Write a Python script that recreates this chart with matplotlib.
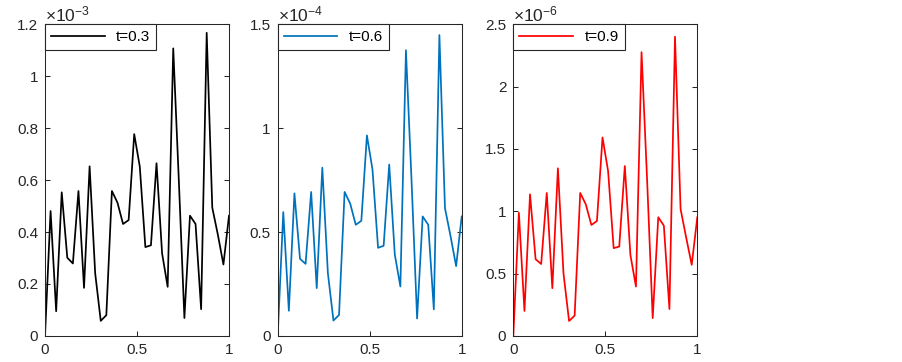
import numpy as np
import matplotlib.pyplot as plt
from matplotlib.ticker import FuncFormatter

plt.rcParams['font.family'] = ['Liberation Sans', 'DejaVu Sans']
plt.rcParams['mathtext.fontset'] = 'custom'
plt.rcParams['mathtext.rm'] = 'Liberation Sans'

# values, in the units shown on each panel (x10^exp)
x = np.linspace(0, 1, 34)

u_t03 = [0, 0.481, 0.095, 0.553, 0.301, 0.279, 0.558, 0.185, 0.653, 0.241,
         0.058, 0.080, 0.558, 0.513, 0.431, 0.446, 0.777, 0.652, 0.342, 0.349,
         0.665, 0.318, 0.189, 1.107, 0.60, 0.069, 0.463, 0.431, 0.103, 1.167,
         0.494, 0.39, 0.275, 0.463]
u_t06 = [0, 0.596, 0.121, 0.686, 0.371, 0.347, 0.693, 0.230, 0.810, 0.302,
         0.074, 0.101, 0.693, 0.637, 0.535, 0.554, 0.965, 0.801, 0.424, 0.434,
         0.825, 0.392, 0.238, 1.375, 0.75, 0.084, 0.575, 0.535, 0.128, 1.448,
         0.615, 0.48, 0.336, 0.575]
u_t09 = [0, 0.988, 0.200, 1.136, 0.615, 0.577, 1.147, 0.383, 1.345, 0.502,
         0.120, 0.163, 1.147, 1.056, 0.890, 0.922, 1.592, 1.323, 0.704, 0.717,
         1.363, 0.650, 0.396, 2.276, 1.25, 0.143, 0.952, 0.885, 0.216, 2.400,
         1.018, 0.79, 0.570, 0.952]

labels = ['t=0.3', 't=0.6', 't=0.9']
series = [u_t03, u_t06, u_t09]
colors = ['#000000', '#0072BD', '#FF0000']
exponents = [-3, -4, -6]
ylims = [1.2, 1.5, 2.5]
ysteps = [0.2, 0.5, 0.5]

fig = plt.figure(figsize=(9.03, 3.62), dpi=100)
lefts = [45 / 903, 277.7 / 903, 513.3 / 903]
gray = '#262626'

for i in range(3):
    ax = fig.add_axes([lefts[i], 0.072, 184 / 903, 0.861])
    ax.plot(x, series[i], color=colors[i], lw=1.25, label=labels[i])
    ax.set_xlim(0, 1)
    ax.set_ylim(0, ylims[i])
    ax.set_xticks([0, 0.5, 1])
    ax.set_yticks(np.arange(0, ylims[i] + 1e-9, ysteps[i]))
    fmt = FuncFormatter(lambda v, p: '%g' % round(v, 3))
    ax.xaxis.set_major_formatter(fmt)
    ax.yaxis.set_major_formatter(fmt)
    ax.tick_params(direction='in', length=3.5, width=0.75, colors=gray,
                   labelsize=11, top=True, right=True, pad=5)
    for s in ax.spines.values():
        s.set_color(gray)
        s.set_linewidth(0.75)
    ax.text(0.0, 1.0, r'$\mathregular{\times10^{%d}}$' % exponents[i],
            transform=ax.transAxes, ha='left', va='bottom', fontsize=12.5,
            color=gray)
    leg = ax.legend(loc='upper left', borderaxespad=0, fancybox=False,
                    framealpha=1, edgecolor=gray, fontsize=11,
                    handlelength=3.5, handletextpad=0.75, borderpad=0.4)
    leg.get_frame().set_linewidth(0.8)

plt.savefig('out.png', dpi=100)
